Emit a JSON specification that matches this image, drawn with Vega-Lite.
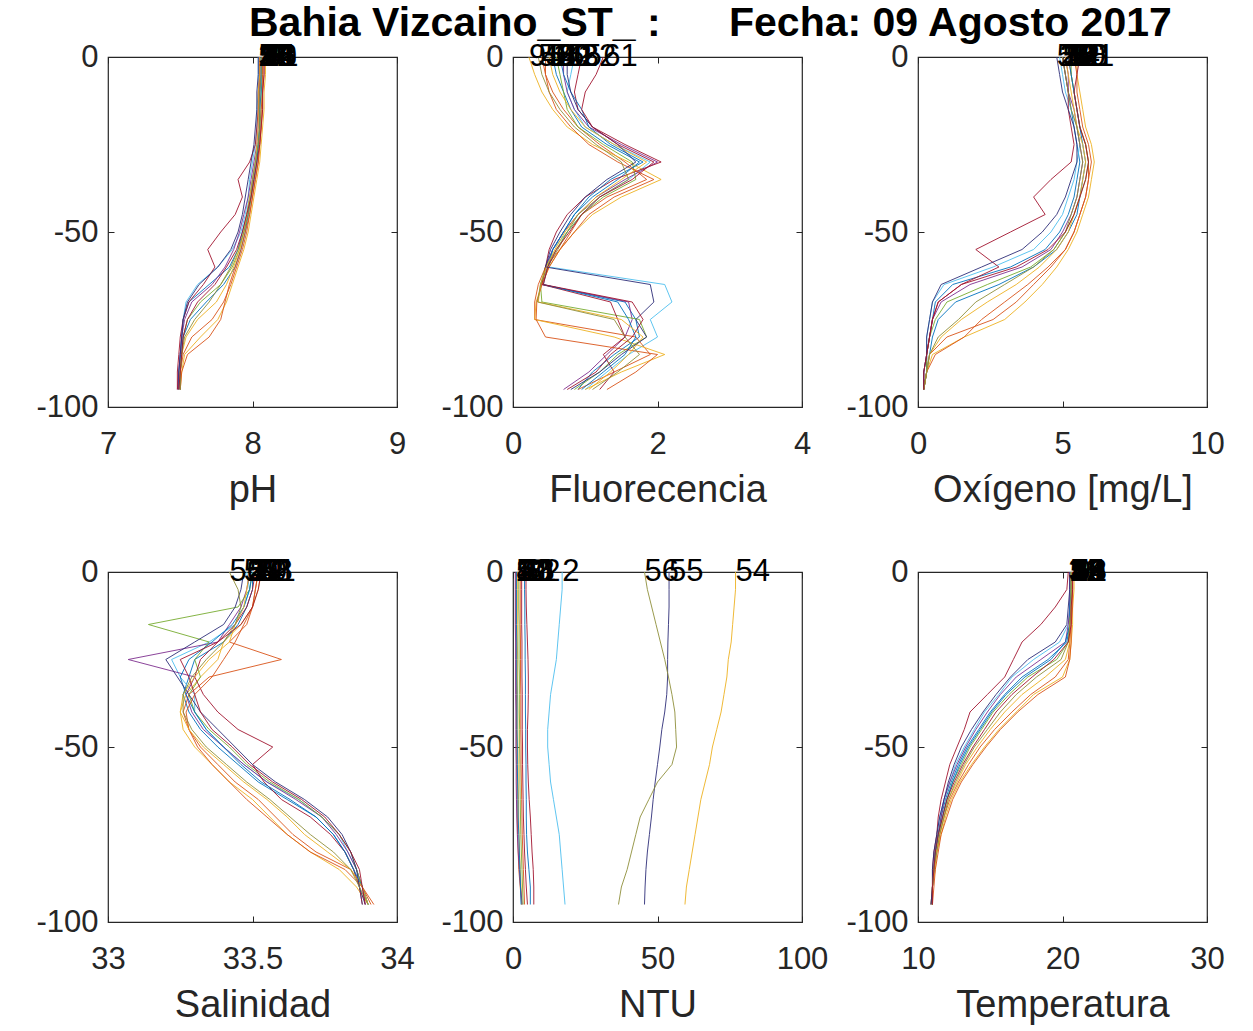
{
  "$schema": "https://vega.github.io/schema/vega-lite/v6.json",
  "background": "white",
  "padding": {"left": 35, "top": 3, "right": 5, "bottom": 5},
  "title": {
    "text": "Bahia Vizcaino_ST_ :\u00a0\u00a0\u00a0\u00a0\u00a0\u00a0Fecha: 09 Agosto 2017",
    "font": "Liberation Sans",
    "fontSize": 41,
    "fontWeight": "bold",
    "color": "black",
    "anchor": "start",
    "frame": "group",
    "dx": 141,
    "offset": -5
  },
  "config": {
    "font": "Liberation Sans",
    "view": {"stroke": "#262626", "strokeWidth": 1.2},
    "range": {
      "category": ["#0072BD", "#7E2F8E", "#4DBEEE", "#77AC30", "#A2142F", "#0072BD", "#D95319", "#D95319", "#EDB120", "#2E2E78", "#8F8F3A", "#A2142F", "#EDB120"]
    },
    "axis": {
      "grid": false,
      "domain": false,
      "tickSize": -6,
      "tickColor": "#262626",
      "tickWidth": 1,
      "labelFont": "Liberation Sans",
      "labelFontSize": 31,
      "labelColor": "#262626",
      "titleFont": "Liberation Sans",
      "titleFontSize": 38,
      "titleFontWeight": "normal",
      "titleColor": "#262626",
      "labelFlush": false,
      "labelOverlap": false
    },
    "axisX": {"labelPadding": 28, "titlePadding": 12},
    "axisY": {"labelPadding": 16},
    "text": {"font": "Liberation Sans"}
  },
  "datasets": {
    "ctd": [
      {"s":"1","z":0,"ph":8.06,"fl":0.55,"ox":5.0,"sa":33.50,"nt":4.0,"t":20.6},
      {"s":"1","z":-5,"ph":8.06,"fl":0.60,"ox":5.1,"sa":33.50,"nt":4.0,"t":20.6},
      {"s":"1","z":-10,"ph":8.05,"fl":0.70,"ox":5.2,"sa":33.48,"nt":4.1,"t":20.5},
      {"s":"1","z":-15,"ph":8.05,"fl":0.80,"ox":5.3,"sa":33.45,"nt":4.1,"t":20.5},
      {"s":"1","z":-20,"ph":8.05,"fl":0.95,"ox":5.4,"sa":33.40,"nt":4.2,"t":20.3},
      {"s":"1","z":-25,"ph":8.04,"fl":1.30,"ox":5.5,"sa":33.30,"nt":4.2,"t":19.0},
      {"s":"1","z":-30,"ph":8.02,"fl":1.75,"ox":5.6,"sa":33.28,"nt":4.3,"t":17.2},
      {"s":"1","z":-35,"ph":8.00,"fl":1.45,"ox":5.5,"sa":33.26,"nt":4.3,"t":16.0},
      {"s":"1","z":-40,"ph":7.98,"fl":1.10,"ox":5.4,"sa":33.28,"nt":4.3,"t":15.0},
      {"s":"1","z":-45,"ph":7.96,"fl":0.85,"ox":5.2,"sa":33.32,"nt":4.4,"t":14.2},
      {"s":"1","z":-50,"ph":7.93,"fl":0.70,"ox":4.9,"sa":33.38,"nt":4.4,"t":13.4},
      {"s":"1","z":-55,"ph":7.90,"fl":0.55,"ox":4.4,"sa":33.45,"nt":4.5,"t":12.8},
      {"s":"1","z":-60,"ph":7.84,"fl":0.45,"ox":3.2,"sa":33.52,"nt":4.5,"t":12.3},
      {"s":"1","z":-65,"ph":7.70,"fl":0.40,"ox":1.2,"sa":33.62,"nt":4.6,"t":11.9},
      {"s":"1","z":-70,"ph":7.56,"fl":1.55,"ox":0.6,"sa":33.72,"nt":4.6,"t":11.6},
      {"s":"1","z":-75,"ph":7.52,"fl":1.70,"ox":0.5,"sa":33.78,"nt":4.7,"t":11.4},
      {"s":"1","z":-80,"ph":7.51,"fl":1.75,"ox":0.4,"sa":33.82,"nt":5.0,"t":11.2},
      {"s":"1","z":-85,"ph":7.50,"fl":1.40,"ox":0.3,"sa":33.85,"nt":5.5,"t":11.1},
      {"s":"1","z":-90,"ph":7.49,"fl":1.10,"ox":0.3,"sa":33.87,"nt":6.0,"t":11.0},
      {"s":"1","z":-95,"ph":7.49,"fl":0.90,"ox":0.2,"sa":33.88,"nt":6.0,"t":11.0},

      {"s":"2","z":0,"ph":8.04,"fl":0.85,"ox":4.9,"sa":33.48,"nt":17.0,"t":20.5},
      {"s":"2","z":-5,"ph":8.04,"fl":0.80,"ox":5.0,"sa":33.49,"nt":17.0,"t":20.5},
      {"s":"2","z":-10,"ph":8.04,"fl":0.75,"ox":5.1,"sa":33.47,"nt":16.5,"t":20.5},
      {"s":"2","z":-15,"ph":8.03,"fl":0.85,"ox":5.3,"sa":33.44,"nt":16.0,"t":20.4},
      {"s":"2","z":-20,"ph":8.03,"fl":1.00,"ox":5.5,"sa":33.35,"nt":15.5,"t":19.8},
      {"s":"2","z":-25,"ph":8.02,"fl":1.40,"ox":5.6,"sa":33.22,"nt":15.0,"t":18.0},
      {"s":"2","z":-30,"ph":8.00,"fl":1.90,"ox":5.5,"sa":33.25,"nt":14.0,"t":16.5},
      {"s":"2","z":-35,"ph":7.98,"fl":1.60,"ox":5.4,"sa":33.30,"nt":13.0,"t":15.6},
      {"s":"2","z":-40,"ph":7.97,"fl":1.20,"ox":5.2,"sa":33.30,"nt":12.5,"t":14.6},
      {"s":"2","z":-45,"ph":7.95,"fl":0.95,"ox":5.0,"sa":33.34,"nt":12.0,"t":13.9},
      {"s":"2","z":-50,"ph":7.92,"fl":0.75,"ox":4.6,"sa":33.40,"nt":12.0,"t":13.2},
      {"s":"2","z":-55,"ph":7.86,"fl":0.55,"ox":4.0,"sa":33.47,"nt":12.5,"t":12.6},
      {"s":"2","z":-60,"ph":7.76,"fl":0.50,"ox":2.6,"sa":33.55,"nt":13.0,"t":12.2},
      {"s":"2","z":-65,"ph":7.62,"fl":2.10,"ox":0.9,"sa":33.66,"nt":14.0,"t":11.8},
      {"s":"2","z":-70,"ph":7.54,"fl":2.20,"ox":0.5,"sa":33.74,"nt":15.0,"t":11.5},
      {"s":"2","z":-75,"ph":7.52,"fl":1.90,"ox":0.4,"sa":33.80,"nt":16.0,"t":11.3},
      {"s":"2","z":-80,"ph":7.51,"fl":2.00,"ox":0.3,"sa":33.83,"nt":16.5,"t":11.2},
      {"s":"2","z":-85,"ph":7.50,"fl":1.60,"ox":0.3,"sa":33.86,"nt":17.0,"t":11.1},
      {"s":"2","z":-90,"ph":7.50,"fl":1.30,"ox":0.2,"sa":33.88,"nt":17.5,"t":11.0},
      {"s":"2","z":-95,"ph":7.49,"fl":1.00,"ox":0.2,"sa":33.90,"nt":18.0,"t":11.0},

      {"s":"5","z":0,"ph":8.08,"fl":0.45,"ox":5.2,"sa":33.52,"nt":1.0,"t":20.7},
      {"s":"5","z":-5,"ph":8.08,"fl":0.45,"ox":5.3,"sa":33.51,"nt":1.0,"t":20.7},
      {"s":"5","z":-10,"ph":8.07,"fl":0.55,"ox":5.4,"sa":33.50,"nt":1.0,"t":20.6},
      {"s":"5","z":-15,"ph":8.07,"fl":0.70,"ox":5.5,"sa":33.48,"nt":1.0,"t":20.6},
      {"s":"5","z":-20,"ph":8.06,"fl":0.90,"ox":5.6,"sa":33.42,"nt":1.1,"t":20.5},
      {"s":"5","z":-25,"ph":8.05,"fl":1.20,"ox":5.8,"sa":33.60,"nt":1.1,"t":20.4},
      {"s":"5","z":-30,"ph":8.04,"fl":1.55,"ox":5.9,"sa":33.35,"nt":1.1,"t":19.5},
      {"s":"5","z":-35,"ph":8.02,"fl":1.85,"ox":5.9,"sa":33.28,"nt":1.2,"t":17.8},
      {"s":"5","z":-40,"ph":8.00,"fl":1.30,"ox":5.8,"sa":33.26,"nt":1.2,"t":16.5},
      {"s":"5","z":-45,"ph":7.98,"fl":0.95,"ox":5.6,"sa":33.28,"nt":1.2,"t":15.3},
      {"s":"5","z":-50,"ph":7.96,"fl":0.80,"ox":5.4,"sa":33.32,"nt":1.3,"t":14.3},
      {"s":"5","z":-55,"ph":7.93,"fl":0.65,"ox":5.1,"sa":33.38,"nt":1.3,"t":13.5},
      {"s":"5","z":-60,"ph":7.89,"fl":0.45,"ox":4.6,"sa":33.44,"nt":1.4,"t":12.8},
      {"s":"5","z":-65,"ph":7.85,"fl":0.35,"ox":4.0,"sa":33.52,"nt":1.4,"t":12.2},
      {"s":"5","z":-70,"ph":7.80,"fl":0.30,"ox":3.4,"sa":33.58,"nt":1.5,"t":11.8},
      {"s":"5","z":-75,"ph":7.72,"fl":0.30,"ox":2.6,"sa":33.64,"nt":1.6,"t":11.5},
      {"s":"5","z":-80,"ph":7.58,"fl":1.70,"ox":1.0,"sa":33.72,"nt":1.8,"t":11.3},
      {"s":"5","z":-85,"ph":7.52,"fl":1.90,"ox":0.4,"sa":33.84,"nt":2.0,"t":11.1},
      {"s":"5","z":-90,"ph":7.50,"fl":1.40,"ox":0.3,"sa":33.88,"nt":2.5,"t":11.0},
      {"s":"5","z":-95,"ph":7.50,"fl":0.90,"ox":0.2,"sa":33.91,"nt":3.0,"t":11.0},

      {"s":"9","z":0,"ph":8.09,"fl":0.22,"ox":5.5,"sa":33.53,"nt":1.5,"t":20.8},
      {"s":"9","z":-5,"ph":8.09,"fl":0.30,"ox":5.5,"sa":33.52,"nt":1.5,"t":20.8},
      {"s":"9","z":-10,"ph":8.08,"fl":0.40,"ox":5.6,"sa":33.50,"nt":1.5,"t":20.7},
      {"s":"9","z":-15,"ph":8.08,"fl":0.55,"ox":5.7,"sa":33.46,"nt":1.5,"t":20.7},
      {"s":"9","z":-20,"ph":8.07,"fl":0.75,"ox":5.8,"sa":33.40,"nt":1.5,"t":20.6},
      {"s":"9","z":-25,"ph":8.06,"fl":1.10,"ox":6.0,"sa":33.38,"nt":1.6,"t":20.5},
      {"s":"9","z":-30,"ph":8.05,"fl":1.60,"ox":6.1,"sa":33.32,"nt":1.6,"t":20.0},
      {"s":"9","z":-35,"ph":8.03,"fl":2.05,"ox":6.0,"sa":33.27,"nt":1.6,"t":18.0},
      {"s":"9","z":-40,"ph":8.01,"fl":1.50,"ox":5.9,"sa":33.25,"nt":1.7,"t":16.8},
      {"s":"9","z":-45,"ph":7.99,"fl":1.10,"ox":5.7,"sa":33.26,"nt":1.7,"t":15.6},
      {"s":"9","z":-50,"ph":7.97,"fl":0.85,"ox":5.5,"sa":33.30,"nt":1.7,"t":14.6},
      {"s":"9","z":-55,"ph":7.94,"fl":0.65,"ox":5.2,"sa":33.36,"nt":1.8,"t":13.7},
      {"s":"9","z":-60,"ph":7.90,"fl":0.50,"ox":4.8,"sa":33.42,"nt":1.8,"t":12.9},
      {"s":"9","z":-65,"ph":7.86,"fl":0.40,"ox":4.3,"sa":33.50,"nt":1.9,"t":12.3},
      {"s":"9","z":-70,"ph":7.82,"fl":0.32,"ox":3.7,"sa":33.56,"nt":2.0,"t":11.9},
      {"s":"9","z":-75,"ph":7.76,"fl":0.30,"ox":3.0,"sa":33.62,"nt":2.1,"t":11.6},
      {"s":"9","z":-80,"ph":7.64,"fl":1.40,"ox":1.6,"sa":33.70,"nt":2.3,"t":11.3},
      {"s":"9","z":-85,"ph":7.53,"fl":2.10,"ox":0.5,"sa":33.80,"nt":2.5,"t":11.2},
      {"s":"9","z":-90,"ph":7.51,"fl":1.50,"ox":0.3,"sa":33.86,"nt":2.8,"t":11.0},
      {"s":"9","z":-95,"ph":7.50,"fl":1.00,"ox":0.2,"sa":33.90,"nt":3.0,"t":11.0},

      {"s":"12","z":0,"ph":8.05,"fl":0.70,"ox":5.1,"sa":33.49,"nt":0.8,"t":20.5},
      {"s":"12","z":-5,"ph":8.05,"fl":0.70,"ox":5.2,"sa":33.48,"nt":0.8,"t":20.5},
      {"s":"12","z":-10,"ph":8.05,"fl":0.75,"ox":5.2,"sa":33.46,"nt":0.8,"t":20.5},
      {"s":"12","z":-15,"ph":8.04,"fl":0.85,"ox":5.4,"sa":33.42,"nt":0.8,"t":20.4},
      {"s":"12","z":-20,"ph":8.04,"fl":1.05,"ox":5.5,"sa":33.38,"nt":0.9,"t":20.2},
      {"s":"12","z":-25,"ph":8.03,"fl":1.50,"ox":5.6,"sa":33.07,"nt":0.9,"t":18.5},
      {"s":"12","z":-30,"ph":8.01,"fl":2.00,"ox":5.7,"sa":33.30,"nt":0.9,"t":16.8},
      {"s":"12","z":-35,"ph":7.99,"fl":1.55,"ox":5.6,"sa":33.27,"nt":0.9,"t":15.7},
      {"s":"12","z":-40,"ph":7.97,"fl":1.15,"ox":5.5,"sa":33.29,"nt":1.0,"t":14.8},
      {"s":"12","z":-45,"ph":7.94,"fl":0.90,"ox":5.3,"sa":33.33,"nt":1.0,"t":14.0},
      {"s":"12","z":-50,"ph":7.91,"fl":0.70,"ox":5.0,"sa":33.40,"nt":1.0,"t":13.3},
      {"s":"12","z":-55,"ph":7.87,"fl":0.55,"ox":4.6,"sa":33.47,"nt":1.1,"t":12.7},
      {"s":"12","z":-60,"ph":7.81,"fl":0.45,"ox":3.6,"sa":33.55,"nt":1.1,"t":12.2},
      {"s":"12","z":-65,"ph":7.72,"fl":0.40,"ox":1.8,"sa":33.65,"nt":1.2,"t":11.8},
      {"s":"12","z":-70,"ph":7.58,"fl":1.60,"ox":0.8,"sa":33.74,"nt":1.3,"t":11.6},
      {"s":"12","z":-75,"ph":7.53,"fl":1.65,"ox":0.5,"sa":33.79,"nt":1.5,"t":11.4},
      {"s":"12","z":-80,"ph":7.51,"fl":1.55,"ox":0.4,"sa":33.83,"nt":1.8,"t":11.2},
      {"s":"12","z":-85,"ph":7.50,"fl":1.30,"ox":0.3,"sa":33.86,"nt":2.2,"t":11.1},
      {"s":"12","z":-90,"ph":7.49,"fl":1.05,"ox":0.3,"sa":33.88,"nt":2.6,"t":11.0},
      {"s":"12","z":-95,"ph":7.48,"fl":0.70,"ox":0.2,"sa":33.89,"nt":3.2,"t":11.0},

      {"s":"20","z":0,"ph":8.07,"fl":0.60,"ox":5.3,"sa":33.50,"nt":2.0,"t":20.6},
      {"s":"20","z":-5,"ph":8.07,"fl":0.65,"ox":5.3,"sa":33.49,"nt":2.0,"t":20.6},
      {"s":"20","z":-10,"ph":8.06,"fl":0.70,"ox":5.4,"sa":33.45,"nt":2.0,"t":20.6},
      {"s":"20","z":-15,"ph":8.06,"fl":0.75,"ox":5.5,"sa":33.14,"nt":2.1,"t":20.5},
      {"s":"20","z":-20,"ph":8.05,"fl":0.90,"ox":5.6,"sa":33.35,"nt":2.1,"t":20.4},
      {"s":"20","z":-25,"ph":8.04,"fl":1.25,"ox":5.8,"sa":33.30,"nt":2.1,"t":19.6},
      {"s":"20","z":-30,"ph":8.03,"fl":1.65,"ox":5.9,"sa":33.32,"nt":2.2,"t":17.6},
      {"s":"20","z":-35,"ph":8.01,"fl":1.70,"ox":5.8,"sa":33.28,"nt":2.2,"t":16.3},
      {"s":"20","z":-40,"ph":7.99,"fl":1.25,"ox":5.6,"sa":33.30,"nt":2.2,"t":15.2},
      {"s":"20","z":-45,"ph":7.97,"fl":0.95,"ox":5.4,"sa":33.35,"nt":2.3,"t":14.4},
      {"s":"20","z":-50,"ph":7.94,"fl":0.75,"ox":5.1,"sa":33.42,"nt":2.3,"t":13.6},
      {"s":"20","z":-55,"ph":7.91,"fl":0.60,"ox":4.7,"sa":33.48,"nt":2.4,"t":13.0},
      {"s":"20","z":-60,"ph":7.86,"fl":0.45,"ox":3.9,"sa":33.56,"nt":2.4,"t":12.4},
      {"s":"20","z":-65,"ph":7.78,"fl":0.38,"ox":2.4,"sa":33.66,"nt":2.5,"t":12.0},
      {"s":"20","z":-70,"ph":7.64,"fl":0.40,"ox":1.0,"sa":33.74,"nt":2.6,"t":11.7},
      {"s":"20","z":-75,"ph":7.55,"fl":1.75,"ox":0.6,"sa":33.80,"nt":2.7,"t":11.4},
      {"s":"20","z":-80,"ph":7.52,"fl":1.85,"ox":0.4,"sa":33.84,"nt":2.9,"t":11.2},
      {"s":"20","z":-85,"ph":7.51,"fl":1.45,"ox":0.3,"sa":33.86,"nt":3.1,"t":11.1},
      {"s":"20","z":-90,"ph":7.50,"fl":1.20,"ox":0.3,"sa":33.88,"nt":3.3,"t":11.0},
      {"s":"20","z":-95,"ph":7.50,"fl":0.85,"ox":0.2,"sa":33.90,"nt":3.5,"t":10.9},

      {"s":"32","z":0,"ph":8.05,"fl":0.95,"ox":5.0,"sa":33.51,"nt":4.5,"t":20.4},
      {"s":"32","z":-5,"ph":8.05,"fl":0.90,"ox":5.1,"sa":33.50,"nt":4.5,"t":20.3},
      {"s":"32","z":-10,"ph":8.04,"fl":0.85,"ox":5.2,"sa":33.48,"nt":4.6,"t":19.5},
      {"s":"32","z":-15,"ph":8.04,"fl":0.90,"ox":5.2,"sa":33.44,"nt":4.8,"t":18.5},
      {"s":"32","z":-20,"ph":8.03,"fl":1.10,"ox":5.3,"sa":33.38,"nt":5.0,"t":17.2},
      {"s":"32","z":-25,"ph":8.02,"fl":1.55,"ox":5.4,"sa":33.32,"nt":5.2,"t":16.6},
      {"s":"32","z":-30,"ph":7.98,"fl":2.05,"ox":5.3,"sa":33.30,"nt":5.3,"t":16.0},
      {"s":"32","z":-35,"ph":7.90,"fl":1.40,"ox":4.6,"sa":33.33,"nt":5.3,"t":14.8},
      {"s":"32","z":-40,"ph":7.93,"fl":1.00,"ox":4.0,"sa":33.38,"nt":5.2,"t":13.6},
      {"s":"32","z":-45,"ph":7.88,"fl":0.75,"ox":4.4,"sa":33.45,"nt":5.0,"t":13.2},
      {"s":"32","z":-50,"ph":7.78,"fl":0.60,"ox":3.2,"sa":33.57,"nt":5.0,"t":12.7},
      {"s":"32","z":-55,"ph":7.69,"fl":0.50,"ox":2.0,"sa":33.50,"nt":5.1,"t":12.2},
      {"s":"32","z":-60,"ph":7.74,"fl":0.45,"ox":2.8,"sa":33.54,"nt":5.3,"t":11.9},
      {"s":"32","z":-65,"ph":7.66,"fl":0.40,"ox":1.5,"sa":33.60,"nt":5.6,"t":11.6},
      {"s":"32","z":-70,"ph":7.56,"fl":1.35,"ox":0.7,"sa":33.70,"nt":6.0,"t":11.4},
      {"s":"32","z":-75,"ph":7.52,"fl":1.45,"ox":0.5,"sa":33.77,"nt":6.3,"t":11.3},
      {"s":"32","z":-80,"ph":7.50,"fl":1.55,"ox":0.4,"sa":33.82,"nt":6.6,"t":11.1},
      {"s":"32","z":-85,"ph":7.49,"fl":1.25,"ox":0.3,"sa":33.85,"nt":7.0,"t":11.0},
      {"s":"32","z":-90,"ph":7.48,"fl":1.40,"ox":0.2,"sa":33.87,"nt":7.2,"t":11.0},
      {"s":"32","z":-95,"ph":7.48,"fl":1.20,"ox":0.2,"sa":33.88,"nt":7.2,"t":10.9},

      {"s":"41","z":0,"ph":8.06,"fl":0.65,"ox":5.2,"sa":33.50,"nt":1.2,"t":20.6},
      {"s":"41","z":-5,"ph":8.06,"fl":0.70,"ox":5.3,"sa":33.49,"nt":1.2,"t":20.6},
      {"s":"41","z":-10,"ph":8.06,"fl":0.80,"ox":5.4,"sa":33.47,"nt":1.2,"t":20.5},
      {"s":"41","z":-15,"ph":8.05,"fl":0.95,"ox":5.5,"sa":33.43,"nt":1.2,"t":20.5},
      {"s":"41","z":-20,"ph":8.05,"fl":1.05,"ox":5.6,"sa":33.36,"nt":1.3,"t":20.2},
      {"s":"41","z":-25,"ph":8.04,"fl":1.35,"ox":5.7,"sa":33.28,"nt":1.3,"t":19.2},
      {"s":"41","z":-30,"ph":8.03,"fl":1.80,"ox":5.8,"sa":33.25,"nt":1.3,"t":17.4},
      {"s":"41","z":-35,"ph":8.01,"fl":1.35,"ox":5.7,"sa":33.27,"nt":1.4,"t":16.1},
      {"s":"41","z":-40,"ph":7.99,"fl":1.05,"ox":5.6,"sa":33.30,"nt":1.4,"t":15.1},
      {"s":"41","z":-45,"ph":7.97,"fl":0.85,"ox":5.5,"sa":33.34,"nt":1.4,"t":14.3},
      {"s":"41","z":-50,"ph":7.95,"fl":0.70,"ox":5.2,"sa":33.40,"nt":1.5,"t":13.5},
      {"s":"41","z":-55,"ph":7.92,"fl":0.55,"ox":4.8,"sa":33.46,"nt":1.5,"t":12.9},
      {"s":"41","z":-60,"ph":7.88,"fl":0.48,"ox":4.0,"sa":33.53,"nt":1.6,"t":12.4},
      {"s":"41","z":-65,"ph":7.80,"fl":0.42,"ox":2.8,"sa":33.63,"nt":1.7,"t":12.0},
      {"s":"41","z":-70,"ph":7.68,"fl":1.45,"ox":1.3,"sa":33.72,"nt":1.8,"t":11.7},
      {"s":"41","z":-75,"ph":7.57,"fl":1.60,"ox":0.7,"sa":33.78,"nt":2.0,"t":11.4},
      {"s":"41","z":-80,"ph":7.52,"fl":1.70,"ox":0.5,"sa":33.82,"nt":2.2,"t":11.2},
      {"s":"41","z":-85,"ph":7.51,"fl":1.55,"ox":0.4,"sa":33.85,"nt":2.4,"t":11.1},
      {"s":"41","z":-90,"ph":7.50,"fl":1.25,"ox":0.3,"sa":33.88,"nt":2.6,"t":11.0},
      {"s":"41","z":-95,"ph":7.50,"fl":0.95,"ox":0.2,"sa":33.90,"nt":2.8,"t":11.0},

      {"s":"48","z":0,"ph":8.07,"fl":0.40,"ox":5.4,"sa":33.52,"nt":2.5,"t":20.7},
      {"s":"48","z":-5,"ph":8.07,"fl":0.45,"ox":5.5,"sa":33.51,"nt":2.5,"t":20.7},
      {"s":"48","z":-10,"ph":8.07,"fl":0.50,"ox":5.5,"sa":33.50,"nt":2.5,"t":20.7},
      {"s":"48","z":-15,"ph":8.06,"fl":0.60,"ox":5.6,"sa":33.47,"nt":2.5,"t":20.6},
      {"s":"48","z":-20,"ph":8.06,"fl":0.80,"ox":5.7,"sa":33.44,"nt":2.6,"t":20.6},
      {"s":"48","z":-25,"ph":8.05,"fl":1.05,"ox":5.9,"sa":33.40,"nt":2.6,"t":20.5},
      {"s":"48","z":-30,"ph":8.04,"fl":1.45,"ox":6.0,"sa":33.36,"nt":2.6,"t":20.2},
      {"s":"48","z":-35,"ph":8.02,"fl":1.95,"ox":5.9,"sa":33.30,"nt":2.7,"t":18.3},
      {"s":"48","z":-40,"ph":8.00,"fl":1.40,"ox":5.8,"sa":33.27,"nt":2.7,"t":16.9},
      {"s":"48","z":-45,"ph":7.98,"fl":1.05,"ox":5.6,"sa":33.28,"nt":2.7,"t":15.7},
      {"s":"48","z":-50,"ph":7.95,"fl":0.85,"ox":5.4,"sa":33.31,"nt":2.8,"t":14.7},
      {"s":"48","z":-55,"ph":7.92,"fl":0.65,"ox":5.1,"sa":33.36,"nt":2.8,"t":13.8},
      {"s":"48","z":-60,"ph":7.88,"fl":0.50,"ox":4.5,"sa":33.42,"nt":2.9,"t":13.0},
      {"s":"48","z":-65,"ph":7.84,"fl":0.40,"ox":3.8,"sa":33.48,"nt":3.0,"t":12.4},
      {"s":"48","z":-70,"ph":7.81,"fl":0.33,"ox":3.0,"sa":33.55,"nt":3.1,"t":12.0},
      {"s":"48","z":-75,"ph":7.78,"fl":0.32,"ox":2.2,"sa":33.62,"nt":3.2,"t":11.6},
      {"s":"48","z":-80,"ph":7.70,"fl":0.45,"ox":1.6,"sa":33.70,"nt":3.4,"t":11.4},
      {"s":"48","z":-85,"ph":7.55,"fl":2.00,"ox":0.6,"sa":33.82,"nt":3.6,"t":11.2},
      {"s":"48","z":-90,"ph":7.51,"fl":1.70,"ox":0.3,"sa":33.88,"nt":3.8,"t":11.1},
      {"s":"48","z":-95,"ph":7.50,"fl":1.30,"ox":0.2,"sa":33.92,"nt":4.0,"t":11.0},

      {"s":"54","z":0,"ph":8.05,"fl":0.50,"ox":5.1,"sa":33.49,"nt":77.0,"t":20.6},
      {"s":"54","z":-5,"ph":8.05,"fl":0.55,"ox":5.2,"sa":33.48,"nt":77.0,"t":20.6},
      {"s":"54","z":-10,"ph":8.04,"fl":0.65,"ox":5.3,"sa":33.47,"nt":76.5,"t":20.6},
      {"s":"54","z":-15,"ph":8.04,"fl":0.80,"ox":5.4,"sa":33.44,"nt":76.0,"t":20.5},
      {"s":"54","z":-20,"ph":8.04,"fl":1.00,"ox":5.5,"sa":33.42,"nt":75.5,"t":20.5},
      {"s":"54","z":-25,"ph":8.03,"fl":1.40,"ox":5.7,"sa":33.35,"nt":74.5,"t":20.2},
      {"s":"54","z":-30,"ph":8.02,"fl":1.85,"ox":5.8,"sa":33.30,"nt":74.0,"t":18.8},
      {"s":"54","z":-35,"ph":8.00,"fl":1.50,"ox":5.7,"sa":33.26,"nt":73.0,"t":17.2},
      {"s":"54","z":-40,"ph":7.98,"fl":1.15,"ox":5.6,"sa":33.25,"nt":72.0,"t":16.0},
      {"s":"54","z":-45,"ph":7.96,"fl":0.90,"ox":5.4,"sa":33.28,"nt":70.5,"t":15.0},
      {"s":"54","z":-50,"ph":7.94,"fl":0.72,"ox":5.2,"sa":33.33,"nt":69.0,"t":14.1},
      {"s":"54","z":-55,"ph":7.91,"fl":0.58,"ox":4.8,"sa":33.40,"nt":68.0,"t":13.3},
      {"s":"54","z":-60,"ph":7.87,"fl":0.46,"ox":4.2,"sa":33.47,"nt":66.5,"t":12.7},
      {"s":"54","z":-65,"ph":7.82,"fl":0.38,"ox":3.4,"sa":33.55,"nt":65.0,"t":12.1},
      {"s":"54","z":-70,"ph":7.75,"fl":0.35,"ox":2.4,"sa":33.62,"nt":64.0,"t":11.8},
      {"s":"54","z":-75,"ph":7.62,"fl":1.50,"ox":1.5,"sa":33.68,"nt":63.0,"t":11.5},
      {"s":"54","z":-80,"ph":7.54,"fl":1.80,"ox":0.8,"sa":33.76,"nt":62.0,"t":11.3},
      {"s":"54","z":-85,"ph":7.51,"fl":1.60,"ox":0.4,"sa":33.84,"nt":61.0,"t":11.1},
      {"s":"54","z":-90,"ph":7.50,"fl":1.35,"ox":0.3,"sa":33.88,"nt":60.0,"t":11.0},
      {"s":"54","z":-95,"ph":7.49,"fl":1.05,"ox":0.2,"sa":33.90,"nt":59.5,"t":11.0},

      {"s":"55","z":0,"ph":8.04,"fl":0.75,"ox":4.8,"sa":33.47,"nt":54.0,"t":20.5},
      {"s":"55","z":-5,"ph":8.04,"fl":0.75,"ox":4.9,"sa":33.46,"nt":54.0,"t":20.5},
      {"s":"55","z":-10,"ph":8.03,"fl":0.80,"ox":5.0,"sa":33.44,"nt":54.0,"t":20.4},
      {"s":"55","z":-15,"ph":8.03,"fl":0.90,"ox":5.2,"sa":33.40,"nt":53.8,"t":20.3},
      {"s":"55","z":-20,"ph":8.02,"fl":1.10,"ox":5.4,"sa":33.30,"nt":53.6,"t":19.5},
      {"s":"55","z":-25,"ph":8.01,"fl":1.45,"ox":5.5,"sa":33.20,"nt":53.5,"t":17.6},
      {"s":"55","z":-30,"ph":7.99,"fl":1.70,"ox":5.5,"sa":33.24,"nt":53.5,"t":16.4},
      {"s":"55","z":-35,"ph":7.97,"fl":1.30,"ox":5.3,"sa":33.28,"nt":53.2,"t":15.4},
      {"s":"55","z":-40,"ph":7.95,"fl":1.00,"ox":5.1,"sa":33.32,"nt":52.5,"t":14.5},
      {"s":"55","z":-45,"ph":7.93,"fl":0.80,"ox":4.8,"sa":33.38,"nt":51.5,"t":13.7},
      {"s":"55","z":-50,"ph":7.90,"fl":0.65,"ox":4.3,"sa":33.44,"nt":50.8,"t":13.0},
      {"s":"55","z":-55,"ph":7.85,"fl":0.52,"ox":3.6,"sa":33.50,"nt":50.0,"t":12.5},
      {"s":"55","z":-60,"ph":7.76,"fl":0.45,"ox":2.2,"sa":33.58,"nt":49.2,"t":12.1},
      {"s":"55","z":-65,"ph":7.63,"fl":1.90,"ox":0.8,"sa":33.68,"nt":48.5,"t":11.8},
      {"s":"55","z":-70,"ph":7.55,"fl":1.95,"ox":0.5,"sa":33.76,"nt":47.9,"t":11.5},
      {"s":"55","z":-75,"ph":7.52,"fl":1.70,"ox":0.4,"sa":33.81,"nt":47.2,"t":11.3},
      {"s":"55","z":-80,"ph":7.51,"fl":1.85,"ox":0.3,"sa":33.84,"nt":46.5,"t":11.1},
      {"s":"55","z":-85,"ph":7.50,"fl":1.50,"ox":0.3,"sa":33.86,"nt":46.0,"t":11.0},
      {"s":"55","z":-90,"ph":7.49,"fl":1.20,"ox":0.2,"sa":33.87,"nt":45.7,"t":11.0},
      {"s":"55","z":-95,"ph":7.49,"fl":0.80,"ox":0.2,"sa":33.89,"nt":45.5,"t":10.9},

      {"s":"56","z":0,"ph":8.06,"fl":0.35,"ox":5.0,"sa":33.42,"nt":45.5,"t":20.6},
      {"s":"56","z":-5,"ph":8.06,"fl":0.40,"ox":5.1,"sa":33.45,"nt":46.5,"t":20.6},
      {"s":"56","z":-10,"ph":8.05,"fl":0.50,"ox":5.2,"sa":33.46,"nt":48.0,"t":20.6},
      {"s":"56","z":-15,"ph":8.05,"fl":0.65,"ox":5.3,"sa":33.44,"nt":49.5,"t":20.5},
      {"s":"56","z":-20,"ph":8.05,"fl":0.85,"ox":5.5,"sa":33.40,"nt":51.0,"t":20.4},
      {"s":"56","z":-25,"ph":8.04,"fl":1.15,"ox":5.6,"sa":33.34,"nt":52.5,"t":19.9},
      {"s":"56","z":-30,"ph":8.02,"fl":1.50,"ox":5.7,"sa":33.29,"nt":53.8,"t":18.2},
      {"s":"56","z":-35,"ph":8.00,"fl":1.60,"ox":5.6,"sa":33.26,"nt":55.0,"t":16.8},
      {"s":"56","z":-40,"ph":7.99,"fl":1.20,"ox":5.5,"sa":33.26,"nt":56.0,"t":15.7},
      {"s":"56","z":-45,"ph":7.97,"fl":0.90,"ox":5.3,"sa":33.29,"nt":56.3,"t":14.8},
      {"s":"56","z":-50,"ph":7.94,"fl":0.75,"ox":5.1,"sa":33.34,"nt":56.6,"t":13.9},
      {"s":"56","z":-55,"ph":7.90,"fl":0.62,"ox":4.7,"sa":33.41,"nt":55.0,"t":13.2},
      {"s":"56","z":-60,"ph":7.85,"fl":0.48,"ox":4.0,"sa":33.48,"nt":50.0,"t":12.6},
      {"s":"56","z":-65,"ph":7.78,"fl":0.38,"ox":3.0,"sa":33.56,"nt":47.0,"t":12.1},
      {"s":"56","z":-70,"ph":7.70,"fl":0.34,"ox":2.0,"sa":33.63,"nt":44.0,"t":11.8},
      {"s":"56","z":-75,"ph":7.60,"fl":1.40,"ox":1.4,"sa":33.70,"nt":42.5,"t":11.5},
      {"s":"56","z":-80,"ph":7.53,"fl":1.55,"ox":0.7,"sa":33.78,"nt":41.0,"t":11.3},
      {"s":"56","z":-85,"ph":7.51,"fl":1.75,"ox":0.4,"sa":33.84,"nt":39.5,"t":11.1},
      {"s":"56","z":-90,"ph":7.50,"fl":1.45,"ox":0.3,"sa":33.87,"nt":37.5,"t":11.0},
      {"s":"56","z":-95,"ph":7.50,"fl":1.10,"ox":0.2,"sa":33.90,"nt":36.5,"t":11.0},

      {"s":"61","z":0,"ph":8.08,"fl":1.25,"ox":5.6,"sa":33.53,"nt":3.0,"t":20.7},
      {"s":"61","z":-5,"ph":8.08,"fl":1.15,"ox":5.5,"sa":33.52,"nt":3.0,"t":20.7},
      {"s":"61","z":-10,"ph":8.07,"fl":1.00,"ox":5.4,"sa":33.50,"nt":3.0,"t":20.6},
      {"s":"61","z":-15,"ph":8.07,"fl":0.95,"ox":5.5,"sa":33.46,"nt":3.0,"t":20.6},
      {"s":"61","z":-20,"ph":8.06,"fl":1.10,"ox":5.6,"sa":33.38,"nt":3.1,"t":20.4},
      {"s":"61","z":-25,"ph":8.05,"fl":1.45,"ox":5.8,"sa":33.25,"nt":3.1,"t":19.4},
      {"s":"61","z":-30,"ph":8.03,"fl":1.95,"ox":5.9,"sa":33.28,"nt":3.1,"t":17.9},
      {"s":"61","z":-35,"ph":8.01,"fl":1.65,"ox":5.8,"sa":33.30,"nt":3.2,"t":16.5},
      {"s":"61","z":-40,"ph":7.99,"fl":1.20,"ox":5.6,"sa":33.32,"nt":3.2,"t":15.4},
      {"s":"61","z":-45,"ph":7.96,"fl":0.95,"ox":5.4,"sa":33.36,"nt":3.2,"t":14.6},
      {"s":"61","z":-50,"ph":7.93,"fl":0.78,"ox":5.1,"sa":33.43,"nt":3.3,"t":13.8},
      {"s":"61","z":-55,"ph":7.89,"fl":0.60,"ox":4.5,"sa":33.49,"nt":3.3,"t":13.1},
      {"s":"61","z":-60,"ph":7.82,"fl":0.48,"ox":3.4,"sa":33.57,"nt":3.4,"t":12.5},
      {"s":"61","z":-65,"ph":7.74,"fl":0.42,"ox":1.5,"sa":33.67,"nt":3.5,"t":12.0},
      {"s":"61","z":-70,"ph":7.62,"fl":1.65,"ox":0.7,"sa":33.75,"nt":3.6,"t":11.7},
      {"s":"61","z":-75,"ph":7.55,"fl":1.80,"ox":0.5,"sa":33.80,"nt":3.8,"t":11.4},
      {"s":"61","z":-80,"ph":7.52,"fl":1.65,"ox":0.4,"sa":33.84,"nt":4.0,"t":11.2},
      {"s":"61","z":-85,"ph":7.51,"fl":1.35,"ox":0.3,"sa":33.87,"nt":4.3,"t":11.1},
      {"s":"61","z":-90,"ph":7.50,"fl":1.15,"ox":0.2,"sa":33.88,"nt":4.6,"t":11.0},
      {"s":"61","z":-95,"ph":7.49,"fl":0.75,"ox":0.2,"sa":33.89,"nt":5.0,"t":11.0}
    ]
  },
  "columns": 3,
  "spacing": {"row": 165, "column": 116},
  "bounds": "flush",
  "concat": [
    {
      "width": 289, "height": 350,
      "data": {"name": "ctd"},
      "layer": [
        {
          "mark": {"type": "line", "strokeWidth": 0.9, "clip": true},
          "encoding": {
            "x": {"field": "ph", "type": "quantitative", "scale": {"domain": [7, 9], "nice": false, "zero": false}, "axis": {"values": [7, 8, 9], "labelExpr": "'' + datum.value", "title": "pH"}},
            "y": {"field": "z", "type": "quantitative", "scale": {"domain": [-100, 0], "nice": false}, "axis": {"values": [-100, -50, 0], "labelExpr": "'' + datum.value", "title": null}},
            "color": {"field": "s", "type": "nominal", "legend": null},
            "order": {"field": "z", "sort": "descending"}
          }
        },
        {
          "transform": [{"filter": "datum.z == 0"}],
          "mark": {"type": "text", "align": "left", "baseline": "middle", "fontSize": 31, "color": "black"},
          "encoding": {
            "x": {"field": "ph", "type": "quantitative", "axis": {"orient": "top", "values": [7, 8, 9], "labels": false, "title": null}},
            "y": {"field": "z", "type": "quantitative", "axis": {"orient": "right", "values": [-100, -50, 0], "labels": false, "title": null}},
            "text": {"field": "s"}
          }
        }
      ],
      "resolve": {"axis": {"x": "independent", "y": "independent"}}
    },
    {
      "width": 289, "height": 350,
      "data": {"name": "ctd"},
      "layer": [
        {
          "mark": {"type": "line", "strokeWidth": 0.9, "clip": true},
          "encoding": {
            "x": {"field": "fl", "type": "quantitative", "scale": {"domain": [0, 4], "nice": false, "zero": false}, "axis": {"values": [0, 2, 4], "labelExpr": "'' + datum.value", "title": "Fluorecencia"}},
            "y": {"field": "z", "type": "quantitative", "scale": {"domain": [-100, 0], "nice": false}, "axis": {"values": [-100, -50, 0], "labelExpr": "'' + datum.value", "title": null}},
            "color": {"field": "s", "type": "nominal", "legend": null},
            "order": {"field": "z", "sort": "descending"}
          }
        },
        {
          "transform": [{"filter": "datum.z == 0"}],
          "mark": {"type": "text", "align": "left", "baseline": "middle", "fontSize": 31, "color": "black"},
          "encoding": {
            "x": {"field": "fl", "type": "quantitative", "axis": {"orient": "top", "values": [0, 2, 4], "labels": false, "title": null}},
            "y": {"field": "z", "type": "quantitative", "axis": {"orient": "right", "values": [-100, -50, 0], "labels": false, "title": null}},
            "text": {"field": "s"}
          }
        }
      ],
      "resolve": {"axis": {"x": "independent", "y": "independent"}}
    },
    {
      "width": 289, "height": 350,
      "data": {"name": "ctd"},
      "layer": [
        {
          "mark": {"type": "line", "strokeWidth": 0.9, "clip": true},
          "encoding": {
            "x": {"field": "ox", "type": "quantitative", "scale": {"domain": [0, 10], "nice": false, "zero": false}, "axis": {"values": [0, 5, 10], "labelExpr": "'' + datum.value", "title": "Oxígeno [mg/L]"}},
            "y": {"field": "z", "type": "quantitative", "scale": {"domain": [-100, 0], "nice": false}, "axis": {"values": [-100, -50, 0], "labelExpr": "'' + datum.value", "title": null}},
            "color": {"field": "s", "type": "nominal", "legend": null},
            "order": {"field": "z", "sort": "descending"}
          }
        },
        {
          "transform": [{"filter": "datum.z == 0"}],
          "mark": {"type": "text", "align": "left", "baseline": "middle", "fontSize": 31, "color": "black"},
          "encoding": {
            "x": {"field": "ox", "type": "quantitative", "axis": {"orient": "top", "values": [0, 5, 10], "labels": false, "title": null}},
            "y": {"field": "z", "type": "quantitative", "axis": {"orient": "right", "values": [-100, -50, 0], "labels": false, "title": null}},
            "text": {"field": "s"}
          }
        }
      ],
      "resolve": {"axis": {"x": "independent", "y": "independent"}}
    },
    {
      "width": 289, "height": 350,
      "data": {"name": "ctd"},
      "layer": [
        {
          "mark": {"type": "line", "strokeWidth": 0.9, "clip": true},
          "encoding": {
            "x": {"field": "sa", "type": "quantitative", "scale": {"domain": [33, 34], "nice": false, "zero": false}, "axis": {"values": [33, 33.5, 34], "labelExpr": "'' + datum.value", "title": "Salinidad"}},
            "y": {"field": "z", "type": "quantitative", "scale": {"domain": [-100, 0], "nice": false}, "axis": {"values": [-100, -50, 0], "labelExpr": "'' + datum.value", "title": null}},
            "color": {"field": "s", "type": "nominal", "legend": null},
            "order": {"field": "z", "sort": "descending"}
          }
        },
        {
          "transform": [{"filter": "datum.z == 0"}],
          "mark": {"type": "text", "align": "left", "baseline": "middle", "fontSize": 31, "color": "black"},
          "encoding": {
            "x": {"field": "sa", "type": "quantitative", "axis": {"orient": "top", "values": [33, 33.5, 34], "labels": false, "title": null}},
            "y": {"field": "z", "type": "quantitative", "axis": {"orient": "right", "values": [-100, -50, 0], "labels": false, "title": null}},
            "text": {"field": "s"}
          }
        }
      ],
      "resolve": {"axis": {"x": "independent", "y": "independent"}}
    },
    {
      "width": 289, "height": 350,
      "data": {"name": "ctd"},
      "layer": [
        {
          "mark": {"type": "line", "strokeWidth": 0.9, "clip": true},
          "encoding": {
            "x": {"field": "nt", "type": "quantitative", "scale": {"domain": [0, 100], "nice": false, "zero": false}, "axis": {"values": [0, 50, 100], "labelExpr": "'' + datum.value", "title": "NTU"}},
            "y": {"field": "z", "type": "quantitative", "scale": {"domain": [-100, 0], "nice": false}, "axis": {"values": [-100, -50, 0], "labelExpr": "'' + datum.value", "title": null}},
            "color": {"field": "s", "type": "nominal", "legend": null},
            "order": {"field": "z", "sort": "descending"}
          }
        },
        {
          "transform": [{"filter": "datum.z == 0"}],
          "mark": {"type": "text", "align": "left", "baseline": "middle", "fontSize": 31, "color": "black"},
          "encoding": {
            "x": {"field": "nt", "type": "quantitative", "axis": {"orient": "top", "values": [0, 50, 100], "labels": false, "title": null}},
            "y": {"field": "z", "type": "quantitative", "axis": {"orient": "right", "values": [-100, -50, 0], "labels": false, "title": null}},
            "text": {"field": "s"}
          }
        }
      ],
      "resolve": {"axis": {"x": "independent", "y": "independent"}}
    },
    {
      "width": 289, "height": 350,
      "data": {"name": "ctd"},
      "layer": [
        {
          "mark": {"type": "line", "strokeWidth": 0.9, "clip": true},
          "encoding": {
            "x": {"field": "t", "type": "quantitative", "scale": {"domain": [10, 30], "nice": false, "zero": false}, "axis": {"values": [10, 20, 30], "labelExpr": "'' + datum.value", "title": "Temperatura"}},
            "y": {"field": "z", "type": "quantitative", "scale": {"domain": [-100, 0], "nice": false}, "axis": {"values": [-100, -50, 0], "labelExpr": "'' + datum.value", "title": null}},
            "color": {"field": "s", "type": "nominal", "legend": null},
            "order": {"field": "z", "sort": "descending"}
          }
        },
        {
          "transform": [{"filter": "datum.z == 0"}],
          "mark": {"type": "text", "align": "left", "baseline": "middle", "fontSize": 31, "color": "black"},
          "encoding": {
            "x": {"field": "t", "type": "quantitative", "axis": {"orient": "top", "values": [10, 20, 30], "labels": false, "title": null}},
            "y": {"field": "z", "type": "quantitative", "axis": {"orient": "right", "values": [-100, -50, 0], "labels": false, "title": null}},
            "text": {"field": "s"}
          }
        }
      ],
      "resolve": {"axis": {"x": "independent", "y": "independent"}}
    }
  ]
}
